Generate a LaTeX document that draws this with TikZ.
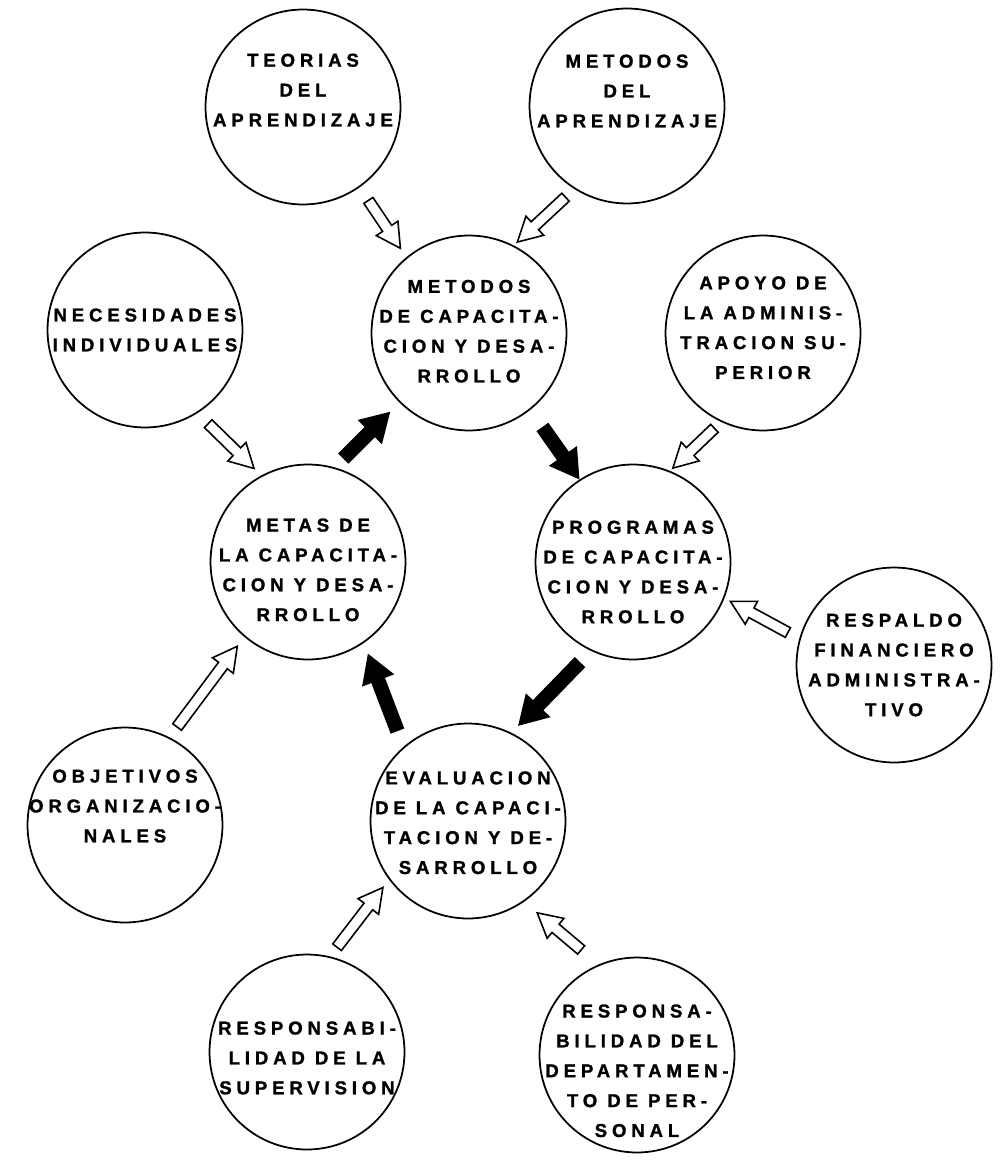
\documentclass[tikz,border=0pt]{standalone}
\usepackage{fontspec}
\usetikzlibrary{calc}
\newfontfamily\lblfont[LetterSpace=26,FakeBold=1.3,UprightFont={* Bold}]{Liberation Sans}
\tikzset{
  bubble/.style={circle,draw,line width=1pt,minimum size=3.9cm,inner sep=0pt},
  txt/.style={align=center,inner sep=0pt,font=\lblfont\fontsize{10.6}{17}\selectfont},
  block/.style n args={3}{to path={
    let \p0=(\tikztostart), \p9=(\tikztotarget),
        \p1=($(\p9)-(\p0)$), \n1={atan2(\y1,\x1)}, \n2={veclen(\x1,\y1)-#3} in
    (\p0) ++(\n1+90:#1) -- ++(\n1:\n2) -- ++(\n1+90:{#2-#1}) -- (\p9)
    -- ($(\p0)+(\n1:\n2)+(\n1-90:#2)$) -- ++(\n1+90:{#2-#1}) -- ++(\n1+180:\n2) -- cycle}},
  feed/.style={draw,fill=white,line width=0.9pt,line join=miter,block={3.1pt}{7.4pt}{13.6pt}},
  flow/.style={draw,fill=black,line width=0.9pt,line join=miter,block={3.7pt}{9pt}{15pt}}
}

\begin{document}
\begin{tikzpicture}[x=0.02cm,y=-0.02cm]
  \useasboundingbox (0,0) rectangle (1000,1162);

  % Upper circles
  \node[bubble] (teorias) at (303,107) {};
  \node[txt] (teorias-t) at ([yshift=9.6pt]teorias) {TEORIAS\\DEL\\APRENDIZAJE};
  \node[bubble] (metodos) at (627,106) {};
  \node[txt] (metodos-t) at ([yshift=8.5pt]metodos) {METODOS\\DEL\\APRENDIZAJE};
  \node[bubble] (necesidades) at (145,330) {};
  \node[txt] (necesidades-t) at (necesidades) {NECESIDADES\\INDIVIDUALES};
  \node[bubble] (metcap) at (469,333) {};
  \node[txt] (metcap-t) at ([yshift=1pt]metcap) {METODOS\\DE CAPACITA-\\CION Y DESA-\\RROLLO};
  \node[bubble] (apoyo) at (763,333) {};
  \node[txt] (apoyo-t) at ([yshift=3pt]apoyo) {APOYO DE\\LA ADMINIS-\\TRACION SU-\\PERIOR};

  % Middle circles
  \node[bubble] (metas) at (308,562) {};
  \node[txt] (metas-t) at ([yshift=-4.5pt]metas) {METAS DE\\LA CAPACITA-\\CION Y DESA-\\RROLLO};
  \node[bubble] (programas) at (633,562) {};
  \node[txt] (programas-t) at ([yshift=-5.7pt]programas) {PROGRAMAS\\DE CAPACITA-\\CION Y DESA-\\RROLLO};
  \node[bubble] (respaldo) at (894,665) {};
  \node[txt] (respaldo-t) at (respaldo) {RESPALDO\\FINANCIERO\\ADMINISTRA-\\TIVO};
  \node[bubble] (objetivos) at (125,825) {};
  \node[txt] (objetivos-t) at ([yshift=10.8pt]objetivos) {OBJETIVOS\\ORGANIZACIO-\\NALES};
  \node[bubble] (evaluacion) at (468,821) {};
  \node[txt] (evaluacion-t) at ([yshift=-1pt]evaluacion) {EVALUACION\\DE LA CAPACI-\\TACION Y DE-\\SARROLLO};

  % Lower circles
  \node[bubble] (supervision) at (307,1052) {};
  \node[txt] (supervision-t) at ([yshift=-3.4pt]supervision) {RESPONSABI-\\LIDAD DE LA\\SUPERVISION};
  \node[bubble] (personal) at (637,1055) {};
  \node[txt] (personal-t) at ([yshift=-9pt]personal) {RESPONSA-\\BILIDAD DEL\\DEPARTAMEN-\\TO DE PER-\\SONAL};

  % Inputs
  \path[feed] ($(teorias)+(55:114)$) to ($(metcap)+(-129:109)$);
  \path[feed] ($(metodos)+(124:110)$) to ($(metcap)+(-62:103)$);
  \path[feed] ($(necesidades)+(56:113)$) to ($(metas)+(-120:108)$);
  \path[feed] ($(apoyo)+(117:107)$) to ($(programas)+(-67:102)$);
  \path[feed] ($(respaldo)+(-163:111)$) to ($(programas)+(22:105)$);
  \path[feed] ($(objetivos)+(-62:111)$) to ($(metas)+(130:110)$);
  \path[feed] ($(supervision)+(-74:109)$) to ($(evaluacion)+(142:108)$);
  \path[feed] ($(personal)+(-118:119)$) to ($(evaluacion)+(53:115)$);

  % Cycle
  \path[flow] ($(metas)+(-71:110)$) to ($(metcap)+(135:113)$);
  \path[flow] ($(metcap)+(52:120)$) to ($(programas)+(-123:100)$);
  \path[flow] ($(programas)+(118:114)$) to ($(evaluacion)+(-62:109)$);
  \path[flow] ($(evaluacion)+(-128:115)$) to ($(metas)+(57:111)$);
\end{tikzpicture}
\end{document}
